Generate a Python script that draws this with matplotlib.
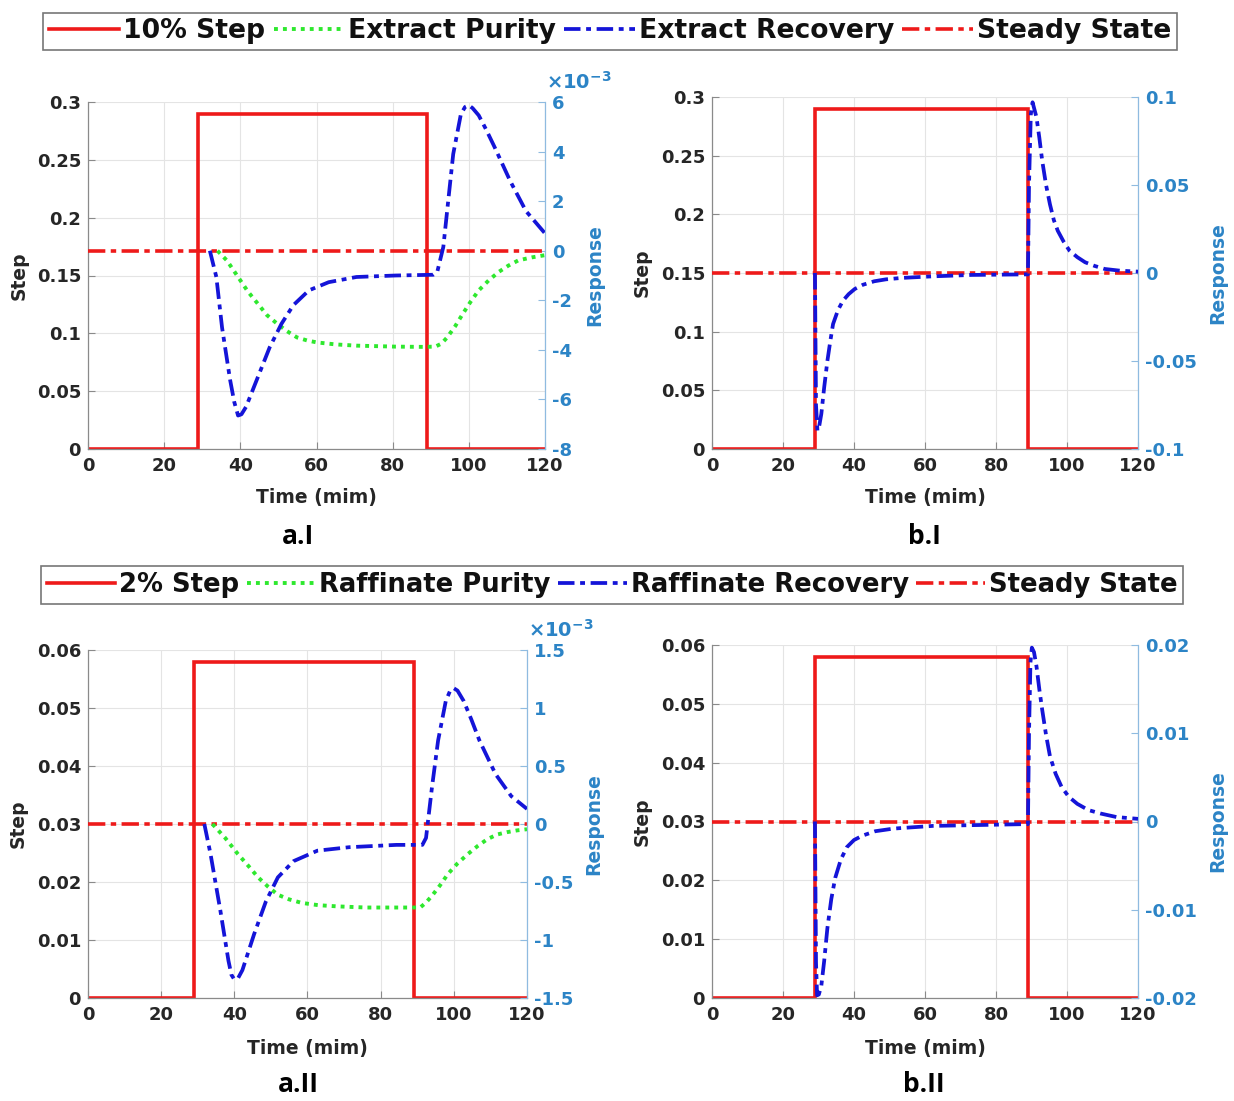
import matplotlib
matplotlib.use("Agg")
import matplotlib.pyplot as plt
from matplotlib.ticker import FuncFormatter, FixedLocator

# ---------------------------------------------------------------- data
time_ticks = [0, 20, 40, 60, 80, 100, 120]

# step input (left axis)
step_t = [0, 29, 29, 89, 89, 120]
step_10pct = [0, 0, 0.29, 0.29, 0, 0]
step_2pct = [0, 0, 0.058, 0.058, 0, 0]

# steady state reference (right axis)
steady_t = [0, 120]
steady_v = [0, 0]

# a.I  extract purity / recovery response
ext_pur_t = [34, 36.5, 39.4, 42, 44.6, 47, 49.7, 52.3, 54.9, 57.5, 60.1, 65,
             70.5, 80.8, 88, 91.2, 92.8, 94.3, 96.4, 98.4, 100.5, 102.6, 105.2,
             107.8, 110.4, 113, 116.5, 120]
ext_pur_v = [0, -0.4e-3, -1.06e-3, -1.65e-3, -2.14e-3, -2.6e-3, -2.95e-3,
             -3.25e-3, -3.5e-3, -3.62e-3, -3.7e-3, -3.78e-3, -3.83e-3, -3.87e-3,
             -3.88e-3, -3.87e-3, -3.75e-3, -3.5e-3, -3.05e-3, -2.55e-3, -2.05e-3,
             -1.6e-3, -1.2e-3, -0.86e-3, -0.6e-3, -0.39e-3, -0.27e-3, -0.18e-3]
ext_rec_t = [32, 33.7, 35.2, 37.3, 38.4, 39.4, 40.3, 41.5, 44.6, 47.7, 50.8,
             53.9, 58, 63.2, 70.5, 80.8, 90.7, 91.7, 93.3, 94.3, 95.9, 97.9, 99,
             100, 101, 102.6, 104.5, 106.7, 110.9, 115, 120]
ext_rec_v = [0, -1.06e-3, -3.1e-3, -5.2e-3, -6.1e-3, -6.65e-3, -6.6e-3,
             -6.3e-3, -5.1e-3, -3.9e-3, -2.95e-3, -2.2e-3, -1.6e-3, -1.27e-3,
             -1.06e-3, -1.0e-3, -0.97e-3, -0.86e-3, 0.15e-3, 1.6e-3, 3.9e-3,
             5.5e-3, 5.8e-3, 5.87e-3, 5.75e-3, 5.46e-3, 4.9e-3, 4.2e-3, 2.8e-3,
             1.6e-3, 0.7e-3]

# b.I  extract recovery response
ext_rec_b_t = [29, 29.3, 29.7, 30.2, 30.8, 31.6, 32.5, 33.3, 34.1, 35.5, 36.9,
               38.5, 40.2, 42.5, 45.7, 49, 53.4, 62.2, 73.2, 88, 89, 89.3, 89.8,
               90.3, 91.4, 92.2, 93, 94.1, 95.2, 96.3, 97.4, 99, 100.7, 102.9,
               105.1, 107.8, 110.6, 115, 120]
ext_rec_b_v = [0, -0.075, -0.0896, -0.087, -0.080, -0.065, -0.050, -0.039,
               -0.029, -0.021, -0.0157, -0.012, -0.0091, -0.0067, -0.0047,
               -0.0036, -0.0028, -0.0019, -0.0011, -0.0008, -0.0008, 0.05, 0.09,
               0.097, 0.0885, 0.077, 0.064, 0.05, 0.039, 0.030, 0.024, 0.018,
               0.0127, 0.009, 0.0061, 0.004, 0.0023, 0.0013, 0.0008]

# a.II  raffinate purity / recovery response
raf_pur_t = [34, 37.5, 41, 43.8, 46.5, 49.2, 51.9, 55, 58.4, 63, 68.1, 76,
             84.3, 89, 90.8, 92.3, 94, 96.2, 98.4, 101, 103.8, 106.5, 109.2,
             111.9, 114.6, 117.3, 120]
raf_pur_v = [0, -0.12e-3, -0.26e-3, -0.36e-3, -0.46e-3, -0.54e-3, -0.61e-3,
             -0.65e-3, -0.68e-3, -0.7e-3, -0.71e-3, -0.72e-3, -0.72e-3, -0.72e-3,
             -0.72e-3, -0.68e-3, -0.62e-3, -0.53e-3, -0.43e-3, -0.34e-3,
             -0.26e-3, -0.19e-3, -0.13e-3, -0.09e-3, -0.07e-3, -0.055e-3,
             -0.045e-3]
raf_rec_t = [31.8, 33.5, 36.2, 38.4, 39.2, 40, 41, 42.2, 45.4, 48.6, 51.9,
             56.2, 62.7, 71.4, 84.3, 91.4, 92.4, 94, 95.7, 97.8, 99, 100, 101,
             102.7, 104.8, 107, 111.4, 115.7, 120]
raf_rec_v = [0, -0.26e-3, -0.75e-3, -1.18e-3, -1.3e-3, -1.34e-3, -1.33e-3,
             -1.26e-3, -0.95e-3, -0.67e-3, -0.46e-3, -0.32e-3, -0.23e-3, -0.2e-3,
             -0.18e-3, -0.18e-3, -0.12e-3, 0.31e-3, 0.72e-3, 1.06e-3, 1.15e-3,
             1.17e-3, 1.15e-3, 1.06e-3, 0.9e-3, 0.72e-3, 0.43e-3, 0.24e-3,
             0.13e-3]

# b.II  raffinate recovery response
raf_rec_b_t = [29, 29.3, 29.6, 30.1, 30.8, 31.6, 32.5, 33.6, 34.7, 36.3, 38,
               40, 42.4, 46, 51.2, 62.2, 75, 88, 89, 89.3, 89.7, 90.1, 90.7,
               91.4, 92.2, 93, 94.1, 95.2, 96.8, 98.5, 100.5, 102.9, 106, 109.5,
               114, 120]
raf_rec_b_v = [0, -0.016, -0.0197, -0.0196, -0.0186, -0.0158, -0.0121,
               -0.0088, -0.0064, -0.0043, -0.0029, -0.0021, -0.0016, -0.0011,
               -0.0008, -0.0005, -0.0004, -0.0003, -0.0003, 0.01, 0.018, 0.0197,
               0.0192, 0.0176, 0.015, 0.0127, 0.0098, 0.0074, 0.0054, 0.0039,
               0.0028, 0.002, 0.0013, 0.0009, 0.0005, 0.0003]

left_ticks_I = [0, 0.05, 0.1, 0.15, 0.2, 0.25, 0.3]
left_ticks_II = [0, 0.01, 0.02, 0.03, 0.04, 0.05, 0.06]
right_ticks_aI = [-8e-3, -6e-3, -4e-3, -2e-3, 0, 2e-3, 4e-3, 6e-3]
right_ticks_bI = [-0.1, -0.05, 0, 0.05, 0.1]
right_ticks_aII = [-1.5e-3, -1e-3, -0.5e-3, 0, 0.5e-3, 1e-3, 1.5e-3]
right_ticks_bII = [-0.02, -0.01, 0, 0.01, 0.02]

legend_I = ["10% Step", "Extract Purity", "Extract Recovery", "Steady State"]
legend_II = ["2% Step", "Raffinate Purity", "Raffinate Recovery", "Steady State"]

# ---------------------------------------------------------------- style
plt.rcParams["font.family"] = ["DejaVu Sans"]
plt.rcParams["font.weight"] = "bold"
plt.rcParams["axes.labelweight"] = "bold"

W, H = 1234, 1101
RED = "#ee1a1a"
BLUE = "#1414d8"
GREEN = "#2ee82e"
RIGHT_C = "#2c84c6"
RIGHT_SPINE = "#8fbbe0"
GRAY = "#8a8a8a"
TXT = "#262626"

DASHDOT_REC = (0, (4.4, 1.5, 1.3, 1.5))
DASHDOT_SS = (0, (4.8, 1.5, 1.5, 1.5))
DOTTED = (0, (1.0, 1.3))

fig = plt.figure(figsize=(W / 100, H / 100), dpi=100)


def rect(l, r, t, b):
    return [l / W, 1 - b / H, (r - l) / W, (b - t) / H]


def fmt(scale):
    return FuncFormatter(lambda v, p: f"{round(v / scale, 6):g}")


def panel(box, step_v, ylim_l, lticks, ylim_r, rticks, rec_t, rec_v,
          pur_t=None, pur_v=None, scale=1.0, step_x=-0.13, resp_x=1.09,
          time_y=-0.115):
    ax = fig.add_axes(rect(*box))
    ax2 = ax.twinx()

    ax.set_xlim(0, 120)
    ax.set_ylim(*ylim_l)
    ax2.set_ylim(*ylim_r)
    ax.xaxis.set_major_locator(FixedLocator(time_ticks))
    ax.yaxis.set_major_locator(FixedLocator(lticks))
    ax2.yaxis.set_major_locator(FixedLocator(rticks))
    ax.xaxis.set_major_formatter(FuncFormatter(lambda v, p: f"{v:g}"))
    ax.yaxis.set_major_formatter(fmt(1.0))
    ax2.yaxis.set_major_formatter(fmt(scale))

    ax.grid(True, color="#e4e4e4", lw=0.8)
    ax.set_axisbelow(True)

    for s in ("top", "right"):
        ax.spines[s].set_visible(False)
    for s in ("top", "left", "bottom"):
        ax2.spines[s].set_visible(False)
    for s in ("left", "bottom"):
        ax.spines[s].set_color(GRAY)
        ax.spines[s].set_linewidth(0.9)
    ax2.spines["right"].set_color(RIGHT_SPINE)
    ax2.spines["right"].set_linewidth(0.9)

    ax.tick_params(axis="x", direction="in", length=5, width=0.8, color=GRAY,
                   labelcolor=TXT, labelsize=13, pad=6, top=False)
    ax.tick_params(axis="y", direction="in", length=5, width=0.8, color=GRAY,
                   labelcolor=TXT, labelsize=13, pad=5, right=False)
    ax2.tick_params(axis="y", direction="in", length=5, width=0.8,
                    color=RIGHT_SPINE, labelcolor=RIGHT_C, labelsize=13, pad=5)

    h_step, = ax.plot(step_t, step_v, color=RED, lw=2.6, solid_joinstyle="miter")
    h_ss, = ax2.plot(steady_t, steady_v, color=RED, lw=2.6,
                     linestyle=DASHDOT_SS, zorder=2)
    h_pur = None
    if pur_t is not None:
        h_pur, = ax2.plot(pur_t, pur_v, color=GREEN, lw=2.8,
                          linestyle=DOTTED, zorder=3)
    h_rec, = ax2.plot(rec_t, rec_v, color=BLUE, lw=2.7,
                      linestyle=DASHDOT_REC, zorder=4)

    ax.set_xlabel("Time (mim)", fontsize=13.5, color=TXT, fontweight="bold")
    ax.xaxis.set_label_coords(0.5, time_y)
    ax.set_ylabel("Step", fontsize=13.5, color=TXT, fontweight="bold")
    ax.yaxis.set_label_coords(step_x, 0.5)
    ax2.set_ylabel("Response", fontsize=13.5, color=RIGHT_C, fontweight="bold")
    ax2.yaxis.set_label_coords(resp_x, 0.5)
    return ax, ax2, (h_step, h_pur, h_rec, h_ss)


def sci_tag(x, y):
    fig.text(x / W, 1 - y / H, r"$\times\mathbf{10}^{\mathbf{-3}}$",
             color=RIGHT_C, fontsize=14, ha="left", va="bottom")


# a.I
_, _, hI = panel((88, 545, 102, 449), step_10pct, (0, 0.3), left_ticks_I,
                 (-8e-3, 6e-3), right_ticks_aI, ext_rec_t, ext_rec_v,
                 ext_pur_t, ext_pur_v, scale=1e-3,
                 step_x=-0.131, resp_x=1.0875, time_y=-0.112)
sci_tag(546, 93)

# b.I
panel((712, 1138, 97, 449), step_10pct, (0, 0.3), left_ticks_I,
      (-0.1, 0.1), right_ticks_bI, ext_rec_b_t, ext_rec_b_v,
      step_x=-0.141, resp_x=1.164, time_y=-0.111)

# a.II
_, _, hII = panel((88, 527, 650, 998), step_2pct, (0, 0.06), left_ticks_II,
                  (-1.5e-3, 1.5e-3), right_ticks_aII, raf_rec_t, raf_rec_v,
                  raf_pur_t, raf_pur_v, scale=1e-3,
                  step_x=-0.137, resp_x=1.13, time_y=-0.118)
sci_tag(528, 641)

# b.II
panel((712, 1138, 645, 998), step_2pct, (0, 0.06), left_ticks_II,
      (-0.02, 0.02), right_ticks_bII, raf_rec_b_t, raf_rec_b_v,
      step_x=-0.141, resp_x=1.164, time_y=-0.116)


def row_legend(handles, labels, cx, cy, size):
    leg = fig.legend(handles, labels, loc="center",
                     bbox_to_anchor=(cx / W, 1 - cy / H), ncol=4,
                     frameon=True, fancybox=False, edgecolor="#777777",
                     framealpha=1, prop=dict(family="DejaVu Sans",
                                             weight="bold", size=size),
                     handlelength=2.65, handletextpad=0.15,
                     columnspacing=0.3, borderpad=0.22, borderaxespad=0)
    leg.get_frame().set_linewidth(1.2)
    for t in leg.get_texts():
        t.set_color("#111111")
    return leg


row_legend(list(hI), legend_I, 610, 31.5, 19.2)
row_legend(list(hII), legend_II, 612, 585, 18.6)

# panel captions
for txt, x, y in (("a.I", 298, 537), ("b.I", 924, 537),
                  ("a.II", 298, 1085), ("b.II", 924, 1085)):
    fig.text(x / W, 1 - y / H, txt, fontsize=19, fontweight="bold",
             family="Open Sans", ha="center", va="center", color="black")

fig.savefig("out.png", dpi=100)
